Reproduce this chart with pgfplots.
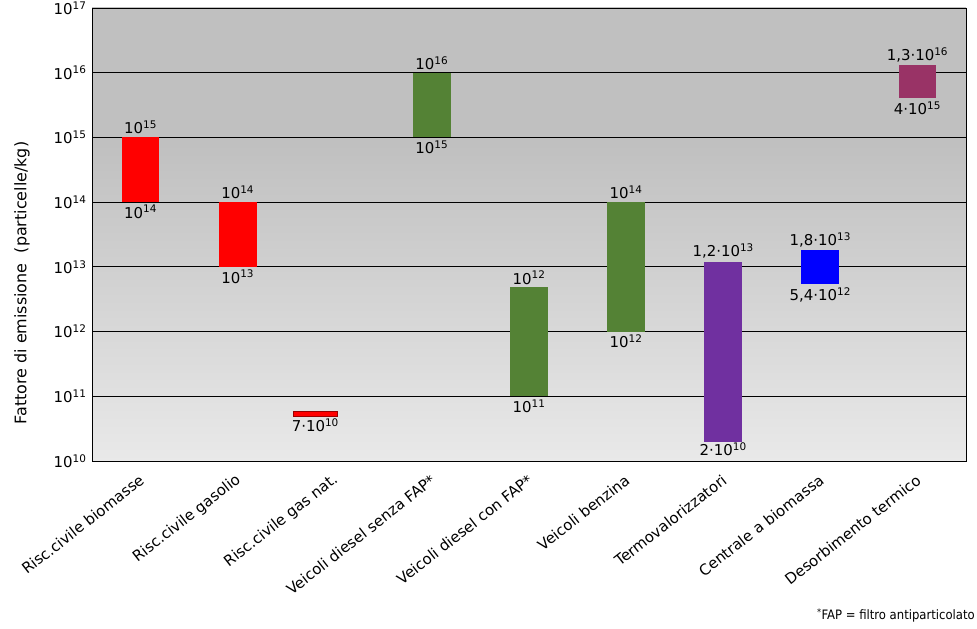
\documentclass[border=0pt]{standalone}
\usepackage{fontspec}
\setmainfont{DejaVu Sans}
\newfontfamily\condfont{DejaVu Sans Condensed}
\usepackage{pgfplots}
\pgfplotsset{compat=1.18}

\definecolor{bgtop}{RGB}{192,192,192}
\definecolor{bgbot}{RGB}{233,233,233}
\definecolor{cred}{RGB}{255,0,0}
\definecolor{cgreen}{RGB}{84,130,53}
\definecolor{cpurple}{RGB}{112,48,160}
\definecolor{cblue}{RGB}{0,0,255}
\definecolor{cmaroon}{RGB}{153,51,102}

% plot area maps to 25bp..75bp of the shading; flat grey above 1e15
\pgfdeclareverticalshading{bgshade}{100bp}{color(0bp)=(bgbot); color(25bp)=(bgbot); color(60bp)=(bgtop); color(100bp)=(bgtop)}

\newcommand{\pw}[1]{10\textsuperscript{#1}}
\newcommand{\vfont}{\fontsize{15}{18}\selectfont}
\tikzset{vl/.style={font=\vfont, inner sep=3bp}}

\begin{document}
\begin{tikzpicture}[x=1bp,y=1bp]
\useasboundingbox (0,0) rectangle (977,629);
\begin{axis}[
  at={(92bp,168bp)}, anchor=south west,
  width=874bp, height=453bp, scale only axis,
  ymode=log, ymin=1e10, ymax=1e17,
  xmin=-0.5, xmax=8.5,
  clip=false,
  axis background/.style={shading=bgshade},
  axis line style={black, line width=0.9pt},
  ytick={1e10,1e11,1e12,1e13,1e14,1e15,1e16,1e17},
  yticklabels={\pw{10},\pw{11},\pw{12},\pw{13},\pw{14},\pw{15},\pw{16},\pw{17}},
  yminorticks=false,
  ymajorgrids, grid style={black, line width=0.8pt},
  ytick style={draw=none},
  yticklabel style={font=\vfont, xshift=-2bp},
  xtick={0,1,2,3,4,5,6,7,8},
  xticklabels={Risc.civile biomasse, Risc.civile gasolio, Risc.civile gas nat.,
    Veicoli diesel senza FAP*, Veicoli diesel con FAP*, Veicoli benzina,
    Termovalorizzatori, Centrale a biomassa, Desorbimento termico},
  xtick style={draw=none},
  minor xtick={0.5,1.5,2.5,3.5,4.5,5.5,6.5,7.5},
  minor x tick style={black, line width=0.8pt},
  minor tick length=5bp, tick align=inside, xtick pos=bottom, ytick pos=left,
  xticklabel style={font=\fontsize{15}{17}\selectfont, xshift=4bp, yshift=-15bp, rotate=38, anchor=east},
  ylabel={Fattore di emissione\ \ (particelle/kg)},
  ylabel style={font=\fontsize{16}{18}\selectfont, at={(axis description cs:-0.080,0.393)}, anchor=center, rotate=0},
]
% floating bars: low and high limits
\addplot[fill=cred, draw=none] coordinates {(-0.195,1e14) (0.195,1e14) (0.195,1e15) (-0.195,1e15)} -- cycle;
\addplot[fill=cred, draw=none] coordinates {(0.805,1e13) (1.195,1e13) (1.195,1e14) (0.805,1e14)} -- cycle;
\addplot[fill=cred, draw=red!60!black, line width=0.4pt] coordinates {(1.57,5.0e10) (2.02,5.0e10) (2.02,5.9e10) (1.57,5.9e10)} -- cycle;
\addplot[fill=cgreen, draw=none] coordinates {(2.805,1e15) (3.195,1e15) (3.195,1e16) (2.805,1e16)} -- cycle;
\addplot[fill=cgreen, draw=none] coordinates {(3.805,1e11) (4.195,1e11) (4.195,4.8e12) (3.805,4.8e12)} -- cycle;
\addplot[fill=cgreen, draw=none] coordinates {(4.805,1e12) (5.195,1e12) (5.195,1e14) (4.805,1e14)} -- cycle;
\addplot[fill=cpurple, draw=none] coordinates {(5.805,2e10) (6.195,2e10) (6.195,1.2e13) (5.805,1.2e13)} -- cycle;
\addplot[fill=cblue, draw=none] coordinates {(6.805,5.4e12) (7.195,5.4e12) (7.195,1.8e13) (6.805,1.8e13)} -- cycle;
\addplot[fill=cmaroon, draw=none] coordinates {(7.805,4e15) (8.195,4e15) (8.195,1.3e16) (7.805,1.3e16)} -- cycle;

% value labels
\node[vl, above] at (axis cs:0,1e15) {\pw{15}};
\node[vl, below] at (axis cs:0,1e14) {\pw{14}};
\node[vl, above] at (axis cs:1,1e14) {\pw{14}};
\node[vl, below] at (axis cs:1,1e13) {\pw{13}};
\node[vl, below] at (axis cs:1.8,5.0e10) {7·\pw{10}};
\node[vl, above] at (axis cs:3,1e16) {\pw{16}};
\node[vl, below] at (axis cs:3,1e15) {\pw{15}};
\node[vl, above] at (axis cs:4,4.8e12) {\pw{12}};
\node[vl, below] at (axis cs:4,1e11) {\pw{11}};
\node[vl, above] at (axis cs:5,1e14) {\pw{14}};
\node[vl, below] at (axis cs:5,1e12) {\pw{12}};
\node[vl, above] at (axis cs:6,1.2e13) {1,2·\pw{13}};
\node[vl, below, inner sep=1bp] at (axis cs:6,2e10) {2·\pw{10}};
\node[vl, above] at (axis cs:7,1.8e13) {1,8·\pw{13}};
\node[vl, below] at (axis cs:7,5.4e12) {5,4·\pw{12}};
\node[vl, above] at (axis cs:8,1.3e16) {1,3·\pw{16}};
\node[vl, below] at (axis cs:8,4e15) {4·\pw{15}};
\end{axis}
\node[anchor=base east, font=\condfont\fontsize{13}{15}\selectfont, inner sep=0pt] at (975,9) {\textsuperscript{*}FAP = filtro antiparticolato};
\end{tikzpicture}
\end{document}
